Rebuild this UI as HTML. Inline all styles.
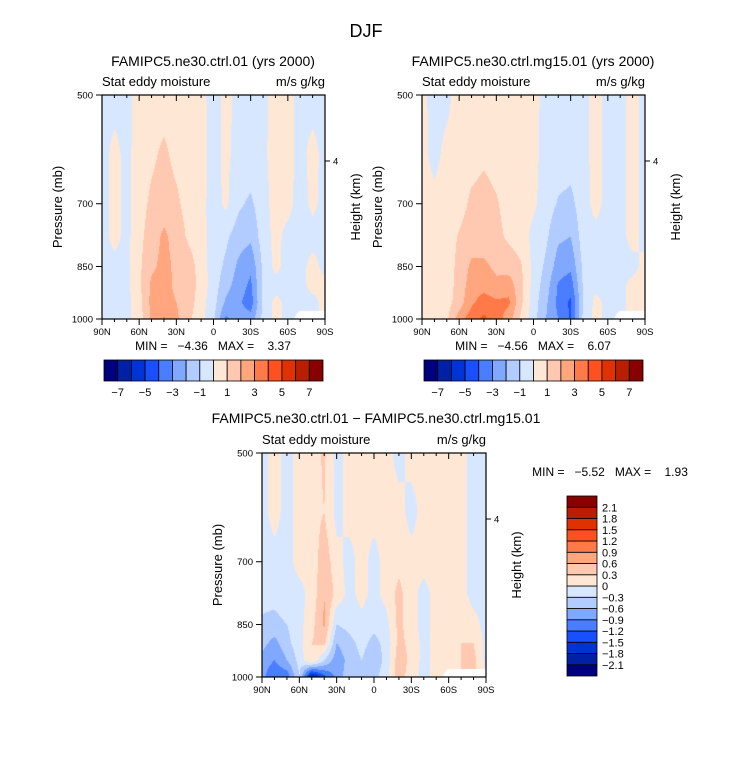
<!DOCTYPE html>
<html><head><meta charset="utf-8">
<style>
body{margin:0;background:#fff;}
#wrap{position:relative;width:733px;height:772px;overflow:hidden;background:#fff;font-family:"Liberation Sans",sans-serif;}
canvas{position:absolute;}
svg{position:absolute;left:0;top:0;}
</style></head>
<body>
<div id="wrap">
<canvas id="c1" width="223" height="224" style="left:102px;top:95px"></canvas>
<canvas id="c2" width="223" height="224" style="left:422px;top:95px"></canvas>
<canvas id="c3" width="224" height="224" style="left:262px;top:453px"></canvas>
<svg id="ov" width="733" height="772" font-family="Liberation Sans, sans-serif" fill="#000">
<text x="366" y="37" font-size="18" text-anchor="middle">DJF</text>
<text x="213" y="66" font-size="14" text-anchor="middle">FAMIPC5.ne30.ctrl.01 (yrs 2000)</text>
<text x="102" y="86" font-size="13">Stat eddy moisture</text>
<text x="325" y="86" font-size="13" text-anchor="end">m/s g/kg</text>
<text x="533" y="66" font-size="14" text-anchor="middle">FAMIPC5.ne30.ctrl.mg15.01 (yrs 2000)</text>
<text x="422" y="86" font-size="13">Stat eddy moisture</text>
<text x="645" y="86" font-size="13" text-anchor="end">m/s g/kg</text>
<text x="376" y="423" font-size="14" text-anchor="middle">FAMIPC5.ne30.ctrl.01 − FAMIPC5.ne30.ctrl.mg15.01</text>
<text x="262" y="444" font-size="13">Stat eddy moisture</text>
<text x="486" y="444" font-size="13" text-anchor="end">m/s g/kg</text>
<text x="213" y="350" font-size="12" text-anchor="middle" xml:space="preserve">MIN =   −4.36   MAX =    3.37</text>
<text x="533" y="350" font-size="12" text-anchor="middle" xml:space="preserve">MIN =   −4.56   MAX =    6.07</text>
<text x="610" y="476" font-size="12" text-anchor="middle" xml:space="preserve">MIN =   −5.52   MAX =    1.93</text>
</svg>
</div>
<script>
// ---- data ----
const lats = ["90N","80N","70N","60N","50N","40N","30N","20N","10N","0","10S","20S","30S","40S","50S","60S","70S","80S","90S"];
const pressures = [500,600,700,775,850,900,950,1000];
const colors = ["#00007f","#0021a6","#0033d6","#1a4fff","#4a7dff","#80a8ff","#b2ccff","#d6e7ff","#ffe7d6","#ffc8b0","#ffa67f","#ff7a48","#ff501f","#e03200","#b81e00","#880000"];
const hTicks1 = ["−7","−5","−3","−1","1","3","5","7"];
const vTicks3 = ["2.1","1.8","1.5","1.2","0.9","0.6","0.3","0","−0.3","−0.6","−0.9","−1.2","−1.5","−1.8","−2.1"];
const xTickLabels = ["90N","60N","30N","0","30S","60S","90S"];
const yTickValues = [500,700,850,1000];
const ctrl = [
[-0.4,-0.4,-0.3,0.4,0.5,0.5,0.5,0.5,0.3,-0.4,0.3,-0.3,-0.4,-0.3,0.4,0.3,-0.3,-0.4,-0.3],
[-0.4,0.3,-0.3,0.5,0.8,1.2,0.7,0.5,0.3,-0.3,0.2,-0.3,-0.3,-0.2,0.4,0.3,-0.3,0.3,-0.3],
[-0.4,0.3,-0.3,0.6,1.2,1.5,1.2,0.6,0.3,-0.4,0.2,-0.8,-1.2,-0.4,0.4,0.3,-0.4,0.2,-0.3],
[-0.4,0.3,-0.3,0.7,1.5,2.2,1.6,0.8,0.4,-0.5,-0.8,-1.5,-1.8,-0.5,0.3,-0.3,-0.4,-0.3,-0.3],
[-0.3,-0.3,-0.3,0.8,1.8,2.3,1.8,1.5,0.5,-0.5,-1.2,-2.2,-2.8,-0.8,0.3,-0.4,-0.3,0.3,-0.3],
[-0.3,-0.3,-0.3,0.8,2.2,2.5,1.7,1.6,0.6,-0.5,-1.6,-2.5,-3.2,-0.8,-0.4,-0.3,-0.3,0.3,0.3],
[-0.3,-0.3,-0.3,0.6,2.3,2.6,2.0,1.5,0.4,-0.6,-2.2,-2.8,-3.5,-0.8,0.3,-0.3,-0.3,-0.3,0.3],
[-0.3,-0.3,-0.3,0.5,2.2,3.1,2.2,1.2,0.3,-0.8,-3.2,-2.5,-2.6,-0.7,0.3,-0.3,null,null,null]];
const mg15 = [
[0.3,-0.4,-0.3,0.5,0.5,0.5,0.5,0.5,0.5,0.3,-0.3,-0.4,-0.4,-0.3,0.3,-0.3,-0.3,0.3,-0.3],
[0.3,-0.3,0.3,0.5,0.6,0.8,0.6,0.5,0.5,0.3,-0.4,-0.4,-0.5,-0.3,0.3,-0.3,-0.3,0.3,-0.3],
[0.3,0.3,0.4,0.6,1.2,1.4,1.1,0.6,0.5,0.2,-0.5,-1.1,-1.3,-0.4,0.3,-0.3,-0.3,0.3,-0.3],
[0.3,0.3,0.5,1.1,1.5,1.5,1.3,0.8,0.5,-0.3,-0.8,-1.8,-2.0,-0.5,-0.3,-0.3,-0.3,0.3,-0.3],
[0.3,0.3,0.5,1.3,2.2,2.2,1.8,1.6,1.1,-0.3,-1.2,-2.5,-2.8,-0.8,-0.3,-0.3,-0.3,-0.3,0.3],
[0.3,0.3,0.5,1.4,2.5,2.6,2.2,2.5,1.3,-0.4,-1.5,-3.1,-3.5,-0.9,-0.3,-0.3,-0.3,0.3,0.3],
[0.3,0.3,0.6,1.5,2.8,3.5,3.2,3.2,1.2,-0.5,-1.8,-3.3,-4.2,-1.0,0.3,-0.3,-0.3,0.3,0.5],
[0.3,0.3,0.8,2.5,3.6,4.2,3.5,2.5,0.8,-0.6,-2.0,-3.0,-4.1,-0.8,0.3,-0.3,null,null,null]];
const diff = [
[-0.1,0.1,-0.1,0.1,0.15,0.35,-0.1,0.1,0.1,0.1,0.1,-0.1,0.1,0.1,0.1,0.1,0.1,-0.1,-0.1],
[-0.1,0.1,-0.1,0.1,0.2,0.3,-0.1,0.1,0.1,0.1,0.1,0.1,-0.1,0.1,0.1,0.1,0.1,-0.1,-0.1],
[-0.1,-0.1,-0.1,0.1,0.1,0.5,0.1,-0.1,0.1,-0.1,0.1,0.2,0.1,0.1,0.1,0.1,0.1,-0.1,-0.1],
[-0.2,-0.2,-0.1,-0.1,0.1,0.6,0.2,-0.1,0.1,-0.1,0.1,0.4,0.1,-0.1,0.1,0.1,0.1,-0.1,-0.1],
[-0.35,-0.4,-0.3,-0.1,0.2,0.65,-0.3,-0.2,-0.1,-0.2,-0.1,0.4,0.1,-0.1,0.1,0.1,0.2,0.1,-0.1],
[-0.5,-0.7,-0.4,-0.1,0.3,0.4,-0.6,-0.4,-0.2,-0.4,-0.2,0.4,0.2,-0.1,0.1,0.1,0.3,0.3,-0.1],
[-0.7,-0.9,-0.6,-0.2,0.3,-0.3,-0.8,-0.5,-0.3,-0.5,-0.2,0.5,0.2,-0.1,0.1,0.1,0.3,0.4,-0.1],
[-0.8,-1.2,-1.1,-0.3,-2.0,-1.3,-0.8,-0.4,-0.3,-0.4,-0.1,0.5,0.1,-0.1,0.1,null,null,null,null]];

// ---- rendering ----
const SVGNS="http://www.w3.org/2000/svg";
const ov=document.getElementById('ov');
function mk(tag,attrs,parent){const e=document.createElementNS(SVGNS,tag);for(const k in attrs)e.setAttribute(k,attrs[k]);(parent||ov).appendChild(e);return e;}
function hexRgb(h){return [parseInt(h.slice(1,3),16),parseInt(h.slice(3,5),16),parseInt(h.slice(5,7),16)];}
const rgb=colors.map(hexRgb);
const lp0=Math.log(500),lp1=Math.log(1000);
function yOfP(p,top,h){return top+(Math.log(p)-lp0)/(lp1-lp0)*h;}

function sample(grid,fx,fy){
  // fx in column units, fy in log-pressure
  const i=Math.min(Math.floor(fx),lats.length-2), tx=fx-i;
  let j=0; const lps=pressures.map(Math.log);
  while(j<pressures.length-2 && fy>lps[j+1]) j++;
  const ty=Math.max(0,Math.min(1,(fy-lps[j])/(lps[j+1]-lps[j])));
  const c=[[grid[j][i],(1-tx)*(1-ty)],[grid[j][i+1],tx*(1-ty)],[grid[j+1][i],(1-tx)*ty],[grid[j+1][i+1],tx*ty]];
  let s=0,w=0,nw=0;
  for(const [v,wt] of c){ if(v===null){nw+=wt;} else {s+=v*wt;w+=wt;} }
  if(nw>0.5) return null;
  return s/w;
}
function drawContour(id,grid,interval){
  const cv=document.getElementById(id),ctx=cv.getContext('2d');
  const W=cv.width,H=cv.height,img=ctx.createImageData(W,H);
  for(let y=0;y<H;y++){
    const fy=lp0+(y+0.5)/H*(lp1-lp0);
    for(let x=0;x<W;x++){
      const fx=(x+0.5)/W*(lats.length-1);
      const v=sample(grid,fx,fy);
      let c=[255,255,255];
      if(v!==null){let k=Math.floor(v/interval)+8;k=Math.max(0,Math.min(15,k));c=rgb[k];}
      const o=(y*W+x)*4;img.data[o]=c[0];img.data[o+1]=c[1];img.data[o+2]=c[2];img.data[o+3]=255;
    }
  }
  ctx.putImageData(img,0,0);
}
drawContour('c1',ctrl,1);
drawContour('c2',mg15,1);
drawContour('c3',diff,0.3);

function axes(L,T,W,H,tag){
  const g=mk('g',{});
  
  
  mk('rect',{x:L,y:T,width:W,height:H,fill:'none',stroke:'#000','stroke-width':1.2},g);
  for(let k=0;k<=18;k++){
    const x=L+k/18*W, maj=k%3===0, len=maj?6:3;
    mk('line',{x1:x,y1:T+H,x2:x,y2:T+H+len,stroke:'#000','stroke-width':1},g);
    mk('line',{x1:x,y1:T,x2:x,y2:T+len,stroke:'#000','stroke-width':1},g);
    if(maj){
      const t=mk('text',{x:x,y:T+H+16,'font-size':9.5,'text-anchor':'middle'},g);
      t.textContent=xTickLabels[k/3];
      
      
    }
  }
  for(const p of yTickValues){
    const y=yOfP(p,T,H);
    mk('line',{x1:L-6,y1:y,x2:L,y2:y,stroke:'#000','stroke-width':1},g);
    const t=mk('text',{x:L-9,y:y+3.5,'font-size':9.5,'text-anchor':'end'},g);
    t.textContent=String(p);
    
    
  }
  const hy=T+66;
  mk('line',{x1:L+W,y1:hy,x2:L+W+5,y2:hy,stroke:'#000','stroke-width':1},g);
  const h4=mk('text',{x:L+W+8,y:hy+3.5,'font-size':9.5},g);h4.textContent='4';
  
  
  const yl=mk('text',{x:0,y:0,'font-size':13,'text-anchor':'middle',transform:`translate(${L-40},${T+H/2}) rotate(-90)`},g);
  yl.textContent='Pressure (mb)';
  
  
  const yr=mk('text',{x:0,y:0,'font-size':13,'text-anchor':'middle',transform:`translate(${L+W+35},${T+H/2}) rotate(-90)`},g);
  yr.textContent='Height (km)';
  
  
}
axes(102,95,223,224,'panel1');
axes(422,95,223,224,'panel2');
axes(262,453,224,224,'panel3');

function hbar(L,T,W,H,tag){
  const g=mk('g',{});
  
  
  const bw=W/colors.length;
  colors.forEach((c,k)=>{
    const r=mk('rect',{x:L+k*bw,y:T,width:bw,height:H,fill:c,stroke:'#000','stroke-width':0.8},g);
    
    
  });
  hTicks1.forEach((s,k)=>{
    const t=mk('text',{x:L+(1+2*k)*bw,y:T+H+15,'font-size':11,'text-anchor':'middle'},g);
    t.textContent=s;
    
    
  });
}
hbar(104,360,219,21,'panel1');
hbar(424,360,219,21,'panel2');

(function vbar(){
  const L=567,T=496,W=30,H=180;
  const g=mk('g',{});
  
  
  const bh=H/colors.length;
  colors.forEach((c,k)=>{
    const r=mk('rect',{x:L,y:T+H-(k+1)*bh,width:W,height:bh,fill:c,stroke:'#000','stroke-width':0.8},g);
    
    
  });
  vTicks3.forEach((s,k)=>{
    const t=mk('text',{x:602,y:T+(k+1)*bh+4,'font-size':11},g);
    t.textContent=s;
    
    
  });
})();
</script>
</body></html>
